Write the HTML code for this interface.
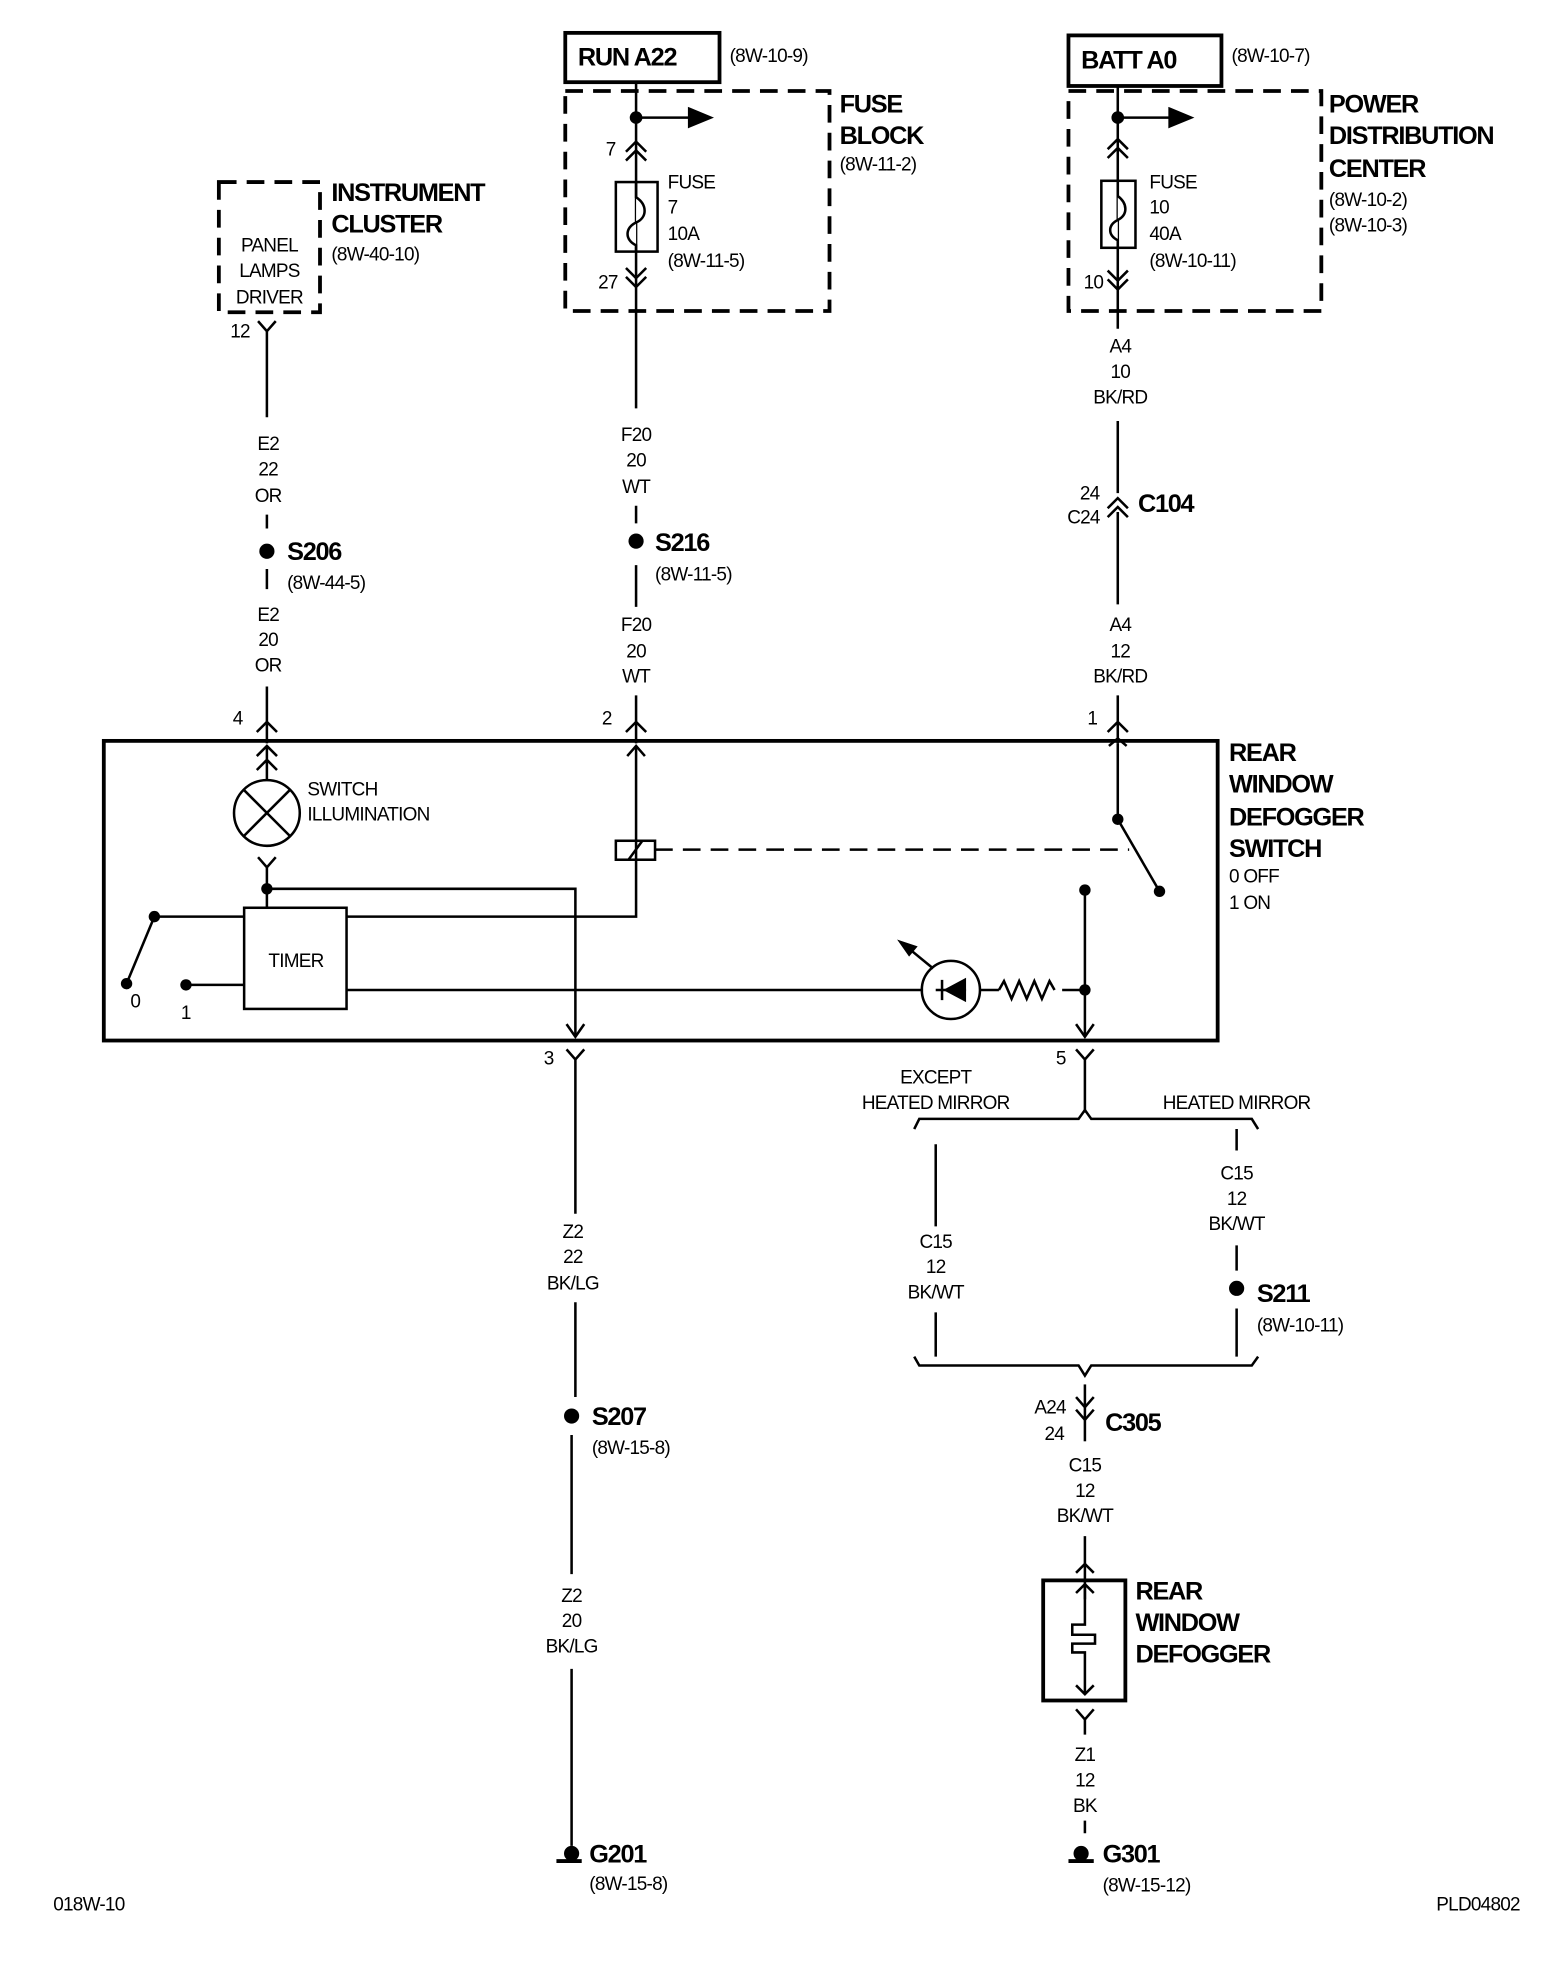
<!DOCTYPE html>
<html><head><meta charset="utf-8"><style>
html,body{margin:0;padding:0;background:#fff;}
svg{display:block}
text{font-family:"Liberation Sans Narrow","Liberation Sans",sans-serif;fill:#000}
.r{font-size:15px;letter-spacing:-0.6px}
.b{font-size:20px;font-weight:bold;letter-spacing:-1px}
.m{text-anchor:middle}
</style></head><body>
<svg width="1568" height="1966" viewBox="0 0 1240 1555" xmlns="http://www.w3.org/2000/svg">
<g stroke="#000" stroke-width="2" fill="none">
<rect x="447" y="26" width="122" height="39" stroke-width="3"/>
<rect x="447" y="72" width="209" height="174" stroke-width="3" stroke-dasharray="14,8"/>
<path d="M503 65 V323"/>
<path d="M503 93 H545"/><path d="M545 86 L562 93 L545 100 z" fill="#000"/>
<path d="M495 120 L503 112 L511 120 M495 127 L503 119 L511 127"/>
<rect x="487" y="144" width="33" height="55"/>
<path d="M503 144 V156 C512 162 512 172 503 176 C494 180 494 190 503 194 V199" fill="#fff"/>
<path d="M495 212 L503 220 L511 212 M495 219 L503 227 L511 219"/>
<path d="M503 400 V414 M503 447 V480 M503 550 V588"/>
<path d="M495 579 L503 571 L511 579"/>
<rect x="845" y="28" width="121" height="40" stroke-width="3"/>
<rect x="845" y="72" width="200" height="174" stroke-width="3" stroke-dasharray="14,8"/>
<path d="M884 68 V260 M884 333 V390 M884 405 V478 M884 550 V588"/>
<path d="M884 93 H925"/><path d="M925 86 L942 93 L925 100 z" fill="#000"/>
<path d="M876 118 L884 110 L892 118 M876 125 L884 117 L892 125"/>
<rect x="871" y="143" width="27" height="53"/>
<path d="M884 143 V155 C892 161 892 170 884 174 C876 178 876 186 884 190 V196" fill="#fff"/>
<path d="M876 214 L884 222 L892 214 M876 221 L884 229 L892 221"/>
<path d="M876 402 L884 394 L892 402 M876 409 L884 401 L892 409"/>
<path d="M876 579 L884 571 L892 579"/>
<rect x="173" y="144" width="80" height="103" stroke-width="3" stroke-dasharray="14,8"/>
<path d="M204 254 L211 262 L218 254 M211 262 V330 M211 407 V418 M211 450 V466 M211 543 V588"/>
<path d="M203 579 L211 571 L219 579"/>
<rect x="82" y="586" width="881" height="237" stroke-width="3"/>
<path d="M203 598 L211 590 L219 598 M203 609 L211 601 L219 609 M211 590 V617"/>
<circle cx="211" cy="643" r="26"/>
<path d="M193 625 L229 661 M229 625 L193 661"/>
<path d="M204 678 L211 686 L218 678 M211 686 V718"/>
<path d="M211 703 H455 V820"/>
<path d="M448 810 L455 820 L462 810"/>
<rect x="193" y="718" width="81" height="80"/>
<path d="M122 725 H193 M274 725 H503 V590"/>
<path d="M496 598 L503 590 L510 598"/>
<path d="M122 725 L100 778"/>
<path d="M147 779 H193 M274 783 H730 M775 783 H790 M840 783 H858"/>
<path d="M790 783 l4 -7 l6 14 l6 -14 l6 14 l6 -14 l6 14 l6 -14 l4 7"/>
<circle cx="752" cy="783" r="23"/>
<path d="M740 783 H764 M745 775 V791"/>
<path d="M763 775 L748 783 L763 791 z" fill="#000"/>
<path d="M738 766 L716 748"/><path d="M712 745 L724 749 L719 755 z" fill="#000"/>
<rect x="487" y="665" width="31" height="15"/>
<path d="M497 680 L508 665"/>
<path d="M518 672 H893" stroke-dasharray="14,8"/>
<path d="M884 588 V648 L917 705"/>
<path d="M858 704 V820"/>
<path d="M851 810 L858 820 L865 810"/>
<path d="M877 590 L884 584 L891 590" />
<path d="M448 830 L455 838 L462 830 M455 838 V960 M455 1030 V1105 M452 1135 V1245 M452 1320 V1460"/>
<path d="M440 1472 H460" stroke-width="3"/>
<path d="M851 830 L858 838 L865 830 M858 838 V880"/>
<path d="M723 893 L727 885 H853 L858 878 L863 885 H990 L995 893"/>
<path d="M740 905 V970 M740 1038 V1073"/>
<path d="M978 893 V910 M978 985 V1005 M978 1035 V1073"/>
<path d="M723 1073 L727 1080 H853 L858 1088 L863 1080 H990 L995 1073"/>
<path d="M858 1095 V1140"/>
<path d="M851 1105 L858 1113 L865 1105 M851 1115 L858 1123 L865 1115"/>
<path d="M858 1215 V1265"/>
<path d="M851 1244 L858 1237 L865 1244"/>
<rect x="825" y="1250" width="65" height="95" stroke-width="3"/>
<path d="M851 1260 L858 1253 L865 1260 M858 1253 V1285 H848 V1293 H866 V1300 H848 V1307 H858 V1340 M851 1333 L858 1340 L865 1333"/>
<path d="M851 1352 L858 1360 L865 1352 M858 1360 V1372 M858 1440 V1450"/>
<path d="M845 1472 H865" stroke-width="3"/>
</g>
<g fill="#000">
<circle cx="503" cy="93" r="5"/><circle cx="884" cy="93" r="5"/>
<circle cx="211" cy="436" r="6"/><circle cx="503" cy="428" r="6"/>
<circle cx="211" cy="703" r="4.5"/><circle cx="122" cy="725" r="4.5"/><circle cx="100" cy="778" r="4.5"/><circle cx="147" cy="779" r="4.5"/>
<circle cx="884" cy="648" r="4.5"/><circle cx="917" cy="705" r="4.5"/><circle cx="858" cy="704" r="4.5"/><circle cx="858" cy="783" r="4.5"/>
<circle cx="452" cy="1120" r="6"/><circle cx="978" cy="1019" r="6"/>
<circle cx="452" cy="1466" r="6"/><circle cx="855" cy="1466" r="6"/>
</g>
<text class="b" x="457" y="52">RUN A22</text>
<text class="r" x="577" y="49">(8W-10-9)</text>
<text class="b" x="664" y="89">FUSE</text><text class="b" x="664" y="114">BLOCK</text>
<text class="r" x="664" y="135">(8W-11-2)</text>
<text class="r" x="479" y="123">7</text>
<text class="r" x="528" y="149">FUSE</text><text class="r" x="528" y="169">7</text><text class="r" x="528" y="190">10A</text><text class="r" x="528" y="211">(8W-11-5)</text>
<text class="r" x="473" y="228">27</text>
<text class="b" x="855" y="54">BATT A0</text>
<text class="r" x="974" y="49">(8W-10-7)</text>
<text class="b" x="1051" y="89">POWER</text><text class="b" x="1051" y="114">DISTRIBUTION</text><text class="b" x="1051" y="140">CENTER</text>
<text class="r" x="1051" y="163">(8W-10-2)</text><text class="r" x="1051" y="183">(8W-10-3)</text>
<text class="r" x="909" y="149">FUSE</text><text class="r" x="909" y="169">10</text><text class="r" x="909" y="190">40A</text><text class="r" x="909" y="211">(8W-10-11)</text>
<text class="r" x="857" y="228">10</text>
<text class="r m" x="886" y="279">A4</text><text class="r m" x="886" y="299">10</text><text class="r m" x="886" y="319">BK/RD</text>
<text class="r" x="854" y="395">24</text><text class="r" x="844" y="414">C24</text>
<text class="b" x="900" y="405">C104</text>
<text class="r m" x="886" y="499">A4</text><text class="r m" x="886" y="520">12</text><text class="r m" x="886" y="540">BK/RD</text>
<text class="r" x="860" y="573">1</text>
<text class="b" x="262" y="159">INSTRUMENT</text><text class="b" x="262" y="184">CLUSTER</text>
<text class="r" x="262" y="206">(8W-40-10)</text>
<text class="r m" x="213" y="199">PANEL</text><text class="r m" x="213" y="219">LAMPS</text><text class="r m" x="213" y="240">DRIVER</text>
<text class="r" x="182" y="267">12</text>
<text class="r m" x="212" y="356">E2</text><text class="r m" x="212" y="376">22</text><text class="r m" x="212" y="397">OR</text>
<text class="b" x="227" y="443">S206</text><text class="r" x="227" y="466">(8W-44-5)</text>
<text class="r m" x="212" y="491">E2</text><text class="r m" x="212" y="511">20</text><text class="r m" x="212" y="531">OR</text>
<text class="r" x="184" y="573">4</text>
<text class="r m" x="503" y="349">F20</text><text class="r m" x="503" y="369">20</text><text class="r m" x="503" y="390">WT</text>
<text class="b" x="518" y="436">S216</text><text class="r" x="518" y="459">(8W-11-5)</text>
<text class="r m" x="503" y="499">F20</text><text class="r m" x="503" y="520">20</text><text class="r m" x="503" y="540">WT</text>
<text class="r" x="476" y="573">2</text>
<text class="r" x="243" y="629">SWITCH</text><text class="r" x="243" y="649">ILLUMINATION</text>
<text class="r m" x="234" y="765">TIMER</text>
<text class="r" x="103" y="797">0</text><text class="r" x="143" y="806">1</text>
<text class="b" x="972" y="602">REAR</text><text class="b" x="972" y="627">WINDOW</text><text class="b" x="972" y="653">DEFOGGER</text><text class="b" x="972" y="678">SWITCH</text>
<text class="r" x="972" y="698">0 OFF</text><text class="r" x="972" y="719">1 ON</text>
<text class="r" x="430" y="842">3</text><text class="r" x="835" y="842">5</text>
<text class="r m" x="740" y="857">EXCEPT</text><text class="r m" x="740" y="877">HEATED MIRROR</text>
<text class="r m" x="978" y="877">HEATED MIRROR</text>
<text class="r m" x="453" y="979">Z2</text><text class="r m" x="453" y="999">22</text><text class="r m" x="453" y="1020">BK/LG</text>
<text class="b" x="468" y="1127">S207</text><text class="r" x="468" y="1150">(8W-15-8)</text>
<text class="r m" x="452" y="1267">Z2</text><text class="r m" x="452" y="1287">20</text><text class="r m" x="452" y="1307">BK/LG</text>
<text class="b" x="466" y="1473">G201</text><text class="r" x="466" y="1495">(8W-15-8)</text>
<text class="r m" x="740" y="987">C15</text><text class="r m" x="740" y="1007">12</text><text class="r m" x="740" y="1027">BK/WT</text>
<text class="r m" x="978" y="933">C15</text><text class="r m" x="978" y="953">12</text><text class="r m" x="978" y="973">BK/WT</text>
<text class="b" x="994" y="1030">S211</text><text class="r" x="994" y="1053">(8W-10-11)</text>
<text class="r" x="818" y="1118">A24</text><text class="r" x="826" y="1139">24</text>
<text class="b" x="874" y="1132">C305</text>
<text class="r m" x="858" y="1164">C15</text><text class="r m" x="858" y="1184">12</text><text class="r m" x="858" y="1204">BK/WT</text>
<text class="b" x="898" y="1265">REAR</text><text class="b" x="898" y="1290">WINDOW</text><text class="b" x="898" y="1315">DEFOGGER</text>
<text class="r m" x="858" y="1393">Z1</text><text class="r m" x="858" y="1413">12</text><text class="r m" x="858" y="1433">BK</text>
<text class="b" x="872" y="1473">G301</text><text class="r" x="872" y="1496">(8W-15-12)</text>
<text class="r" x="42" y="1511">018W-10</text>
<text class="r" x="1202" y="1511" text-anchor="end">PLD04802</text>
</svg>
</body></html>
